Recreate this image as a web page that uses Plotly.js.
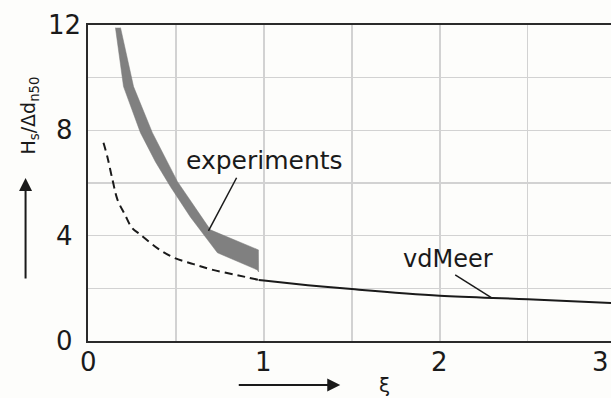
<!DOCTYPE html>
<html>
<head>
<meta charset="utf-8">
<script src="https://cdn.plot.ly/plotly-3.0.1.min.js"></script>
<style>html,body{margin:0;padding:0;background:#fdfdfb;overflow:hidden;}</style>
</head>
<body>
<div id="chart" style="width:611px;height:398px;"></div>
<script>
// Tick labels
const xTickVals = [0, 1, 2, 3];
const xTickText = ['0', '1', '2', '3'];
const yTickVals = [0, 4, 8, 12];
const yTickText = ['0', '4', '8', '12'];

// Experiments band (lower / upper edges)
const expLowerX = [0.156, 0.202, 0.298, 0.384, 0.469, 0.582, 0.736, 0.963, 0.970];
const expLowerY = [11.9, 9.66, 7.91, 6.8, 5.86, 4.71, 3.35, 2.70, 2.62];
const expUpperX = [0.185, 0.259, 0.366, 0.509, 0.696, 0.969];
const expUpperY = [11.9, 9.66, 7.91, 6.05, 4.22, 3.46];

// vdMeer extrapolated (dashed) and valid range (solid)
const dashX = [0.088, 0.11, 0.14, 0.168, 0.21, 0.25, 0.30, 0.40, 0.49, 0.60, 0.71, 0.85, 0.97];
const dashY = [7.53, 7.0, 6.1, 5.36, 4.8, 4.3, 4.03, 3.5, 3.16, 2.92, 2.70, 2.5, 2.32];
const solidX = [0.97, 1.0, 1.25, 1.5, 2.0, 2.5, 2.974];
const solidY = [2.32, 2.30, 2.12, 1.97, 1.72, 1.59, 1.44];

const bandX = expLowerX.concat(expUpperX.slice().reverse());
const bandY = expLowerY.concat(expUpperY.slice().reverse());

const FONT = 'DejaVu Sans, Arial, sans-serif';
const INK = '#1a1a1a';
const XMAX = 2.974;

const traces = [
  {x: bandX, y: bandY, type: 'scatter', mode: 'lines', fill: 'toself',
   fillcolor: '#808080', line: {color: '#7a7a7a', width: 0.5}, hoverinfo: 'skip'},
  {x: dashX, y: dashY, type: 'scatter', mode: 'lines',
   line: {color: INK, width: 2, dash: '8px,5px', shape: 'spline'}},
  {x: solidX, y: solidY, type: 'scatter', mode: 'lines',
   line: {color: INK, width: 2, shape: 'spline'}}
];

const L = 87.5, T = 25, W = 611, H = 398, B = 57;
const pw = W - L, ph = H - T - B;
const px = v => (v - L) / pw;
const py = v => (H - B - v) / ph;

const tickFont = {family: FONT, size: 26, color: INK};
const annotations = [];
// y tick labels (centred in the left margin)
yTickVals.forEach((v, i) => annotations.push({
  text: yTickText[i], xref: 'paper', yref: 'y', x: px(64), y: v,
  xanchor: 'center', yanchor: 'middle', showarrow: false, font: tickFont}));
// x tick labels (last one is clamped at the right edge)
xTickVals.forEach((v, i) => {
  const inside = v <= XMAX;
  annotations.push({
    text: xTickText[i], xref: inside ? 'x' : 'paper', yref: 'paper',
    x: inside ? v : 1, y: py(362),
    xanchor: inside ? 'center' : 'right', yanchor: 'middle',
    showarrow: false, font: tickFont});
});

annotations.push(
  {text: 'experiments', xref: 'x', yref: 'y', x: 1.006, y: 6.84, showarrow: false,
   xanchor: 'center', yanchor: 'middle', font: {family: FONT, size: 25, color: INK}},
  {text: 'vdMeer', xref: 'x', yref: 'y', x: 2.045, y: 3.12, showarrow: false,
   xanchor: 'center', yanchor: 'middle', font: {family: FONT, size: 24, color: INK}},
  // y title
  {text: 'H<sub>s</sub>/Δd<sub>n50</sub>', xref: 'paper', yref: 'paper',
   x: px(28), y: py(116), xanchor: 'center', yanchor: 'middle', textangle: -90,
   showarrow: false, font: {family: FONT, size: 19, color: INK}},
  // y arrow
  {text: '', xref: 'paper', yref: 'paper', x: px(25), y: py(178),
   showarrow: true, axref: 'pixel', ayref: 'pixel', ax: 0, ay: 102,
   arrowhead: 2, arrowsize: 1.3, arrowwidth: 2, arrowcolor: INK, standoff: 0},
  // x arrow
  {text: '', xref: 'paper', yref: 'paper', x: px(340), y: py(385),
   showarrow: true, axref: 'pixel', ayref: 'pixel', ax: -103, ay: 0,
   arrowhead: 2, arrowsize: 1.3, arrowwidth: 2, arrowcolor: INK, standoff: 0},
  // x title
  {text: 'ξ', xref: 'paper', yref: 'paper', x: px(384), y: py(385),
   xanchor: 'center', yanchor: 'middle', showarrow: false,
   font: {family: FONT, size: 20, color: INK}}
);

const layout = {
  width: W, height: H,
  margin: {l: L, r: 0, t: T, b: B, pad: 0},
  paper_bgcolor: '#fdfdfb', plot_bgcolor: '#fdfdfb',
  showlegend: false,
  font: {family: FONT, color: INK},
  xaxis: {
    range: [0, XMAX], tickvals: xTickVals, showticklabels: false,
    showgrid: true, gridcolor: '#d2d2d2', gridwidth: 1.6,
    minor: {dtick: 0.5, tick0: 0, showgrid: true, gridcolor: '#d2d2d2', gridwidth: 1.6},
    showline: true, linecolor: '#2a2a2a', linewidth: 2, mirror: true,
    ticks: '', zeroline: false
  },
  yaxis: {
    range: [0, 12], tickvals: yTickVals, showticklabels: false,
    showgrid: true, gridcolor: '#d2d2d2', gridwidth: 1.6,
    minor: {dtick: 2, tick0: 0, showgrid: true, gridcolor: '#d2d2d2', gridwidth: 1.6},
    showline: true, linecolor: '#2a2a2a', linewidth: 2,
    ticks: '', zeroline: false
  },
  shapes: [
    // white label boxes (above grid, below traces)
    {type: 'rect', xref: 'paper', yref: 'paper', layer: 'between',
     x0: px(177), x1: px(352), y0: py(182), y1: py(140),
     fillcolor: '#fdfdfb', line: {width: 0}},
    {type: 'rect', xref: 'paper', yref: 'paper', layer: 'between',
     x0: px(373), x1: px(512), y0: py(281), y1: py(215),
     fillcolor: '#fdfdfb', line: {width: 0}},
    // leader lines
    {type: 'line', xref: 'x', yref: 'y', x0: 0.845, y0: 6.2, x1: 0.685, y1: 4.18,
     line: {color: INK, width: 1.5}},
    {type: 'line', xref: 'x', yref: 'y', x0: 2.088, y0: 2.51, x1: 2.298, y1: 1.63,
     line: {color: INK, width: 1.5}}
  ],
  annotations: annotations
};

Plotly.newPlot('chart', traces, layout, {displayModeBar: false, staticPlot: true});
</script>
</body>
</html>
